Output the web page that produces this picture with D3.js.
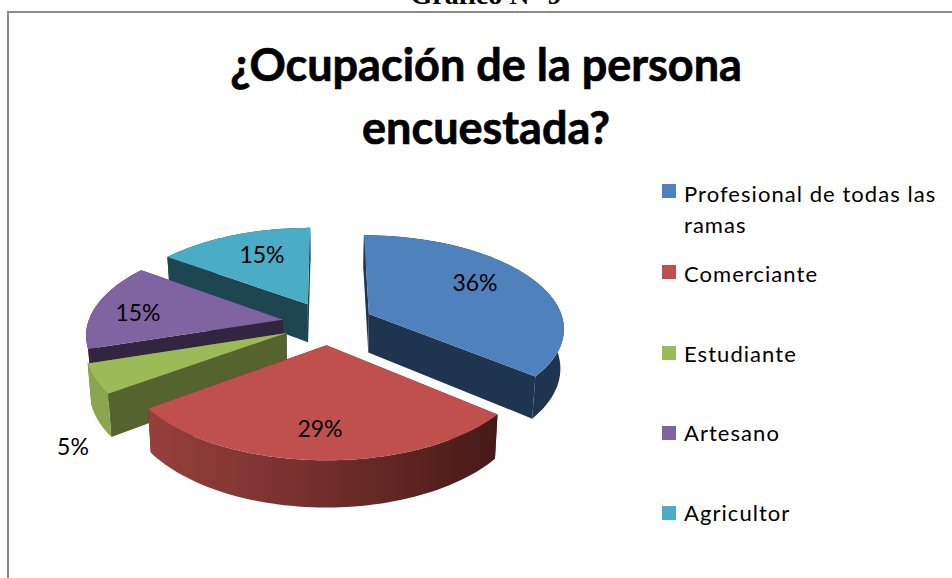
<!DOCTYPE html>
<html><head><meta charset="utf-8">
<script src="https://cdn.jsdelivr.net/npm/d3@7"></script>
<style>html,body{margin:0;padding:0;background:#fff;overflow:hidden}svg{display:block}</style>
</head><body><svg id="c" width="952" height="578"></svg>
<script>
const heading = "Gráfico N° 9";
const titleLines = ["¿Ocupación de la persona", "encuestada?"];
const categories = ["Profesional de todas las ramas", "Comerciante", "Estudiante", "Artesano", "Agricultor"];
const legendLines = [["Profesional de todas las", "ramas"], ["Comerciante"], ["Estudiante"], ["Artesano"], ["Agricultor"]];
const values = [36, 29, 5, 15, 15];
const topColors = ["#4f81bd", "#c0504d", "#9bbb59", "#8064a2", "#4bacc6"];
const wallColors = ["#1f344f", "#5a2420", "#55632f", "#33243f", "#1e4650"];
const outerColors = ["#1f344f", "#7a2f2c", "#8aa64e", "#33243f", "#1e4650"];
const drawOrder = [4, 0, 3, 2, 1];
const legendSquareY = [191, 272, 353, 433, 513];
const legendBaseY = [202, 282, 362, 441, 521];

const svg = d3.select("#c");
const FONT = "Lato, Carlito, 'Open Sans', sans-serif";

const defs = svg.append("defs");
const g = defs.append("linearGradient").attr("id", "redWall").attr("x1", "0").attr("x2", "1").attr("y1", "0").attr("y2", "0");
g.append("stop").attr("offset", "0").attr("stop-color", "#96403c");
g.append("stop").attr("offset", "0.45").attr("stop-color", "#76302d");
g.append("stop").attr("offset", "1").attr("stop-color", "#461a17");

svg.append("path").attr("d", "M8,578V12H952").attr("fill", "none").attr("stroke", "#8a8a8a").attr("stroke-width", 2);
svg.append("text").text(heading).attr("x", 486).attr("y", 4).attr("text-anchor", "middle")
  .attr("font-family", "'Liberation Serif', serif").attr("font-weight", "bold").attr("font-size", 28);

titleLines.forEach((t, i) => svg.append("text").text(t).attr("x", 486).attr("y", 81 + i * 63)
  .attr("text-anchor", "middle").attr("font-family", FONT).attr("font-weight", "bold").attr("font-size", 45)
  .attr("fill", "#000").attr("stroke", "#000").attr("stroke-width", 0.7));

const pie = d3.pie().sort(null).value(d => d);
const arcs = pie(values);
const sx = d3.scaleLinear().domain([0, 1]).range([328, 523]);
const sy = d3.scaleLinear().domain([0, 1]).range([323, 415]);
const K = 0.14, EXPLODE = 0.235, DEPTH = 39, ZSHRINK = 0.015;

function project(u, v, z) {
  const w = 1 - K * v;
  return [sx(u * (1 - ZSHRINK * z) / w), sy(v / w) + z * DEPTH / w];
}
function pt(a, r, th, z) {
  const mid = (a.startAngle + a.endAngle) / 2;
  const u = EXPLODE * Math.sin(mid) + r * Math.sin(th);
  const v = -EXPLODE * Math.cos(mid) - r * Math.cos(th);
  return project(u, v, z);
}
function arcPts(a, t0, t1, z) {
  return d3.range(0, 61).map(i => pt(a, 1, t0 + (t1 - t0) * i / 60, z));
}
const poly = d3.line();

const pieG = svg.append("g");
drawOrder.forEach(i => {
  const a = arcs[i];
  const s = a.startAngle, e = a.endAngle;
  pieG.append("path").attr("d", poly([pt(a, 0, s, 0), pt(a, 1, s, 0), pt(a, 1, s, 1), pt(a, 0, s, 1)]) + "Z").attr("fill", wallColors[i]);
  pieG.append("path").attr("d", poly([pt(a, 0, e, 0), pt(a, 1, e, 0), pt(a, 1, e, 1), pt(a, 0, e, 1)]) + "Z").attr("fill", wallColors[i]);
  pieG.append("path").attr("d", poly(arcPts(a, s, e, 0).concat(arcPts(a, e, s, 1))) + "Z")
    .attr("fill", i === 1 ? "url(#redWall)" : outerColors[i]);
  pieG.append("path").attr("d", poly([pt(a, 0, s, 0)].concat(arcPts(a, s, e, 0))) + "Z").attr("fill", topColors[i]);
});

const labelPos = [[475, 283], [320, 429], [73, 447], [138, 313], [262, 255]];
values.forEach((v, i) => svg.append("text").text(v + "%").attr("x", labelPos[i][0]).attr("y", labelPos[i][1] + 8)
  .attr("text-anchor", "middle").attr("font-family", FONT).attr("font-size", 23).attr("fill", "#000"));

categories.forEach((c, i) => {
  svg.append("rect").attr("x", 662).attr("y", legendSquareY[i] - 7).attr("width", 14).attr("height", 14).attr("fill", topColors[i]);
  legendLines[i].forEach((l, j) => svg.append("text").text(l).attr("x", 684).attr("y", legendBaseY[i] + j * 31)
    .attr("font-family", FONT).attr("font-size", 22).attr("letter-spacing", 1.05).attr("fill", "#000"));
});
</script></body></html>
